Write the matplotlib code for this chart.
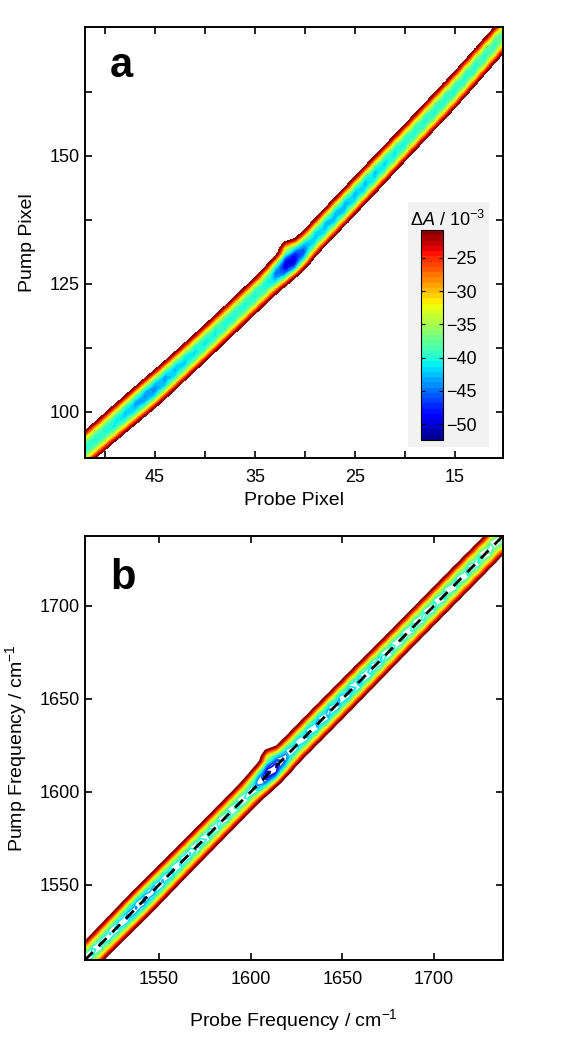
import numpy as np
import matplotlib
matplotlib.use('Agg')
import matplotlib.pyplot as plt
from matplotlib.patches import Rectangle
from matplotlib.ticker import FixedLocator

plt.rcParams['font.family'] = ['Liberation Sans', 'DejaVu Sans']
plt.rcParams['mathtext.fontset'] = 'custom'
plt.rcParams['mathtext.rm'] = 'Liberation Sans'
plt.rcParams['mathtext.it'] = 'Liberation Sans:italic'

# detector pixels
probe_pixels = np.arange(10, 53)
pump_pixels = np.arange(91, 177)

# pixel -> frequency calibration (cm-1)
probe_pixel_cal = [52, 45, 40, 35, 30, 25, 20, 15, 10]
probe_freq_cal = [1509, 1542, 1567, 1593, 1619, 1648, 1677, 1706, 1737]
pump_pixel_cal = [91, 176]
pump_freq_cal = [1504, 1743]

# depth of the diagonal bleach (10^-3) along the diagonal
diag_freq = [1500, 1520, 1540, 1560, 1580, 1600, 1611, 1622, 1640, 1660, 1680, 1700, 1720, 1745]
diag_depth = [-40, -41, -45, -42, -41, -41, -52, -43, -44, -43, -41, -41, -41, -39]
diag_width = 8.8
band_shape = 2.5

# small shoulder above the diagonal near the dip
shoulder_probe = 1607
shoulder_pump = 1621
shoulder_depth = -16
shoulder_width = 2.5

levels_a = np.linspace(-52.4, -20.8, 41)
levels_b = np.linspace(-52.4, -20.8, 24)
cbar_ticks = [-25, -30, -35, -40, -45, -50]

# build the 2D map
probe_freq = np.interp(probe_pixels, probe_pixel_cal[::-1], probe_freq_cal[::-1])
pump_freq = np.interp(pump_pixels, pump_pixel_cal, pump_freq_cal)
PF, UF = np.meshgrid(probe_freq, pump_freq)
depth = np.interp((PF + UF) / 2, diag_freq, diag_depth)
dA = depth * np.exp(-np.abs((UF - PF) / diag_width) ** band_shape / 2)
dA += shoulder_depth * np.exp(-((PF - shoulder_probe) ** 2 + (UF - shoulder_pump) ** 2)
                              / (2 * shoulder_width ** 2))

fig = plt.figure(figsize=(5.74, 10.5), dpi=100)
ax1 = fig.add_axes([0.148, 0.5638, 0.728, 0.4105])
ax2 = fig.add_axes([0.148, 0.0857, 0.728, 0.4038])


def style(ax):
    for sp in ax.spines.values():
        sp.set_linewidth(1.4)
    ax.tick_params(which='both', direction='in', top=True, right=True,
                   length=5, width=1.2, labelsize=13)
    ax.tick_params(axis='x', which='both', pad=8)


# panel a: pixel space, filled contours
cs = ax1.contourf(probe_pixels, pump_pixels, dA, levels=levels_a, cmap='jet')
ax1.set_xlim(52, 10.2)
ax1.set_ylim(91, 175.1)
ax1.xaxis.set_major_locator(FixedLocator([45, 35, 25, 15]))
ax1.xaxis.set_minor_locator(FixedLocator([50, 40, 30, 20]))
ax1.yaxis.set_major_locator(FixedLocator([100, 125, 150]))
ax1.yaxis.set_minor_locator(FixedLocator([112.5, 137.5, 162.5]))
style(ax1)
ax1.set_xlabel('Probe Pixel', fontsize=14, labelpad=4)
ax1.set_ylabel('Pump Pixel', fontsize=14, labelpad=10)
ax1.text(0.06, 0.91, 'a', transform=ax1.transAxes, fontsize=30,
         fontweight='bold', va='center', ha='left')

ax1.add_patch(Rectangle((0.773, 0.0255), 0.194, 0.5685, transform=ax1.transAxes,
                        facecolor='#f2f2f2', edgecolor='none', zorder=3))
cax = ax1.inset_axes([0.804, 0.0418, 0.0526, 0.487])
cax.set_zorder(4)
cb = fig.colorbar(cs, cax=cax, ticks=cbar_ticks)
cb.outline.set_linewidth(0.8)
cax.tick_params(direction='in', length=3, width=0.8, left=True, right=True,
                labelsize=13, pad=2)
ax1.text(0.868, 0.552, r'$\mathit{\Delta A}$ / 10$^{-3}$', transform=ax1.transAxes,
         fontsize=13, ha='center', va='center', zorder=5)

# panel b: frequency space, contour lines
ax2.contour(probe_freq, pump_freq, dA, levels=levels_b, cmap='jet', linewidths=1.2)
ax2.set_xlim(1509.5, 1737.5)
ax2.set_ylim(1509.5, 1737.5)
ax2.plot([1509.5, 1737.5], [1509.5, 1737.5], color='black', ls=(0, (4, 3)), lw=2)
ax2.xaxis.set_major_locator(FixedLocator([1550, 1600, 1650, 1700]))
ax2.yaxis.set_major_locator(FixedLocator([1550, 1600, 1650, 1700]))
style(ax2)
ax2.set_xlabel('Probe Frequency / cm$^{-1}$', fontsize=14, labelpad=14)
ax2.set_ylabel('Pump Frequency / cm$^{-1}$', fontsize=14, labelpad=8)
ax2.text(0.06, 0.9, 'b', transform=ax2.transAxes, fontsize=30,
         fontweight='bold', va='center', ha='left')

fig.savefig('out.png', dpi=100)
